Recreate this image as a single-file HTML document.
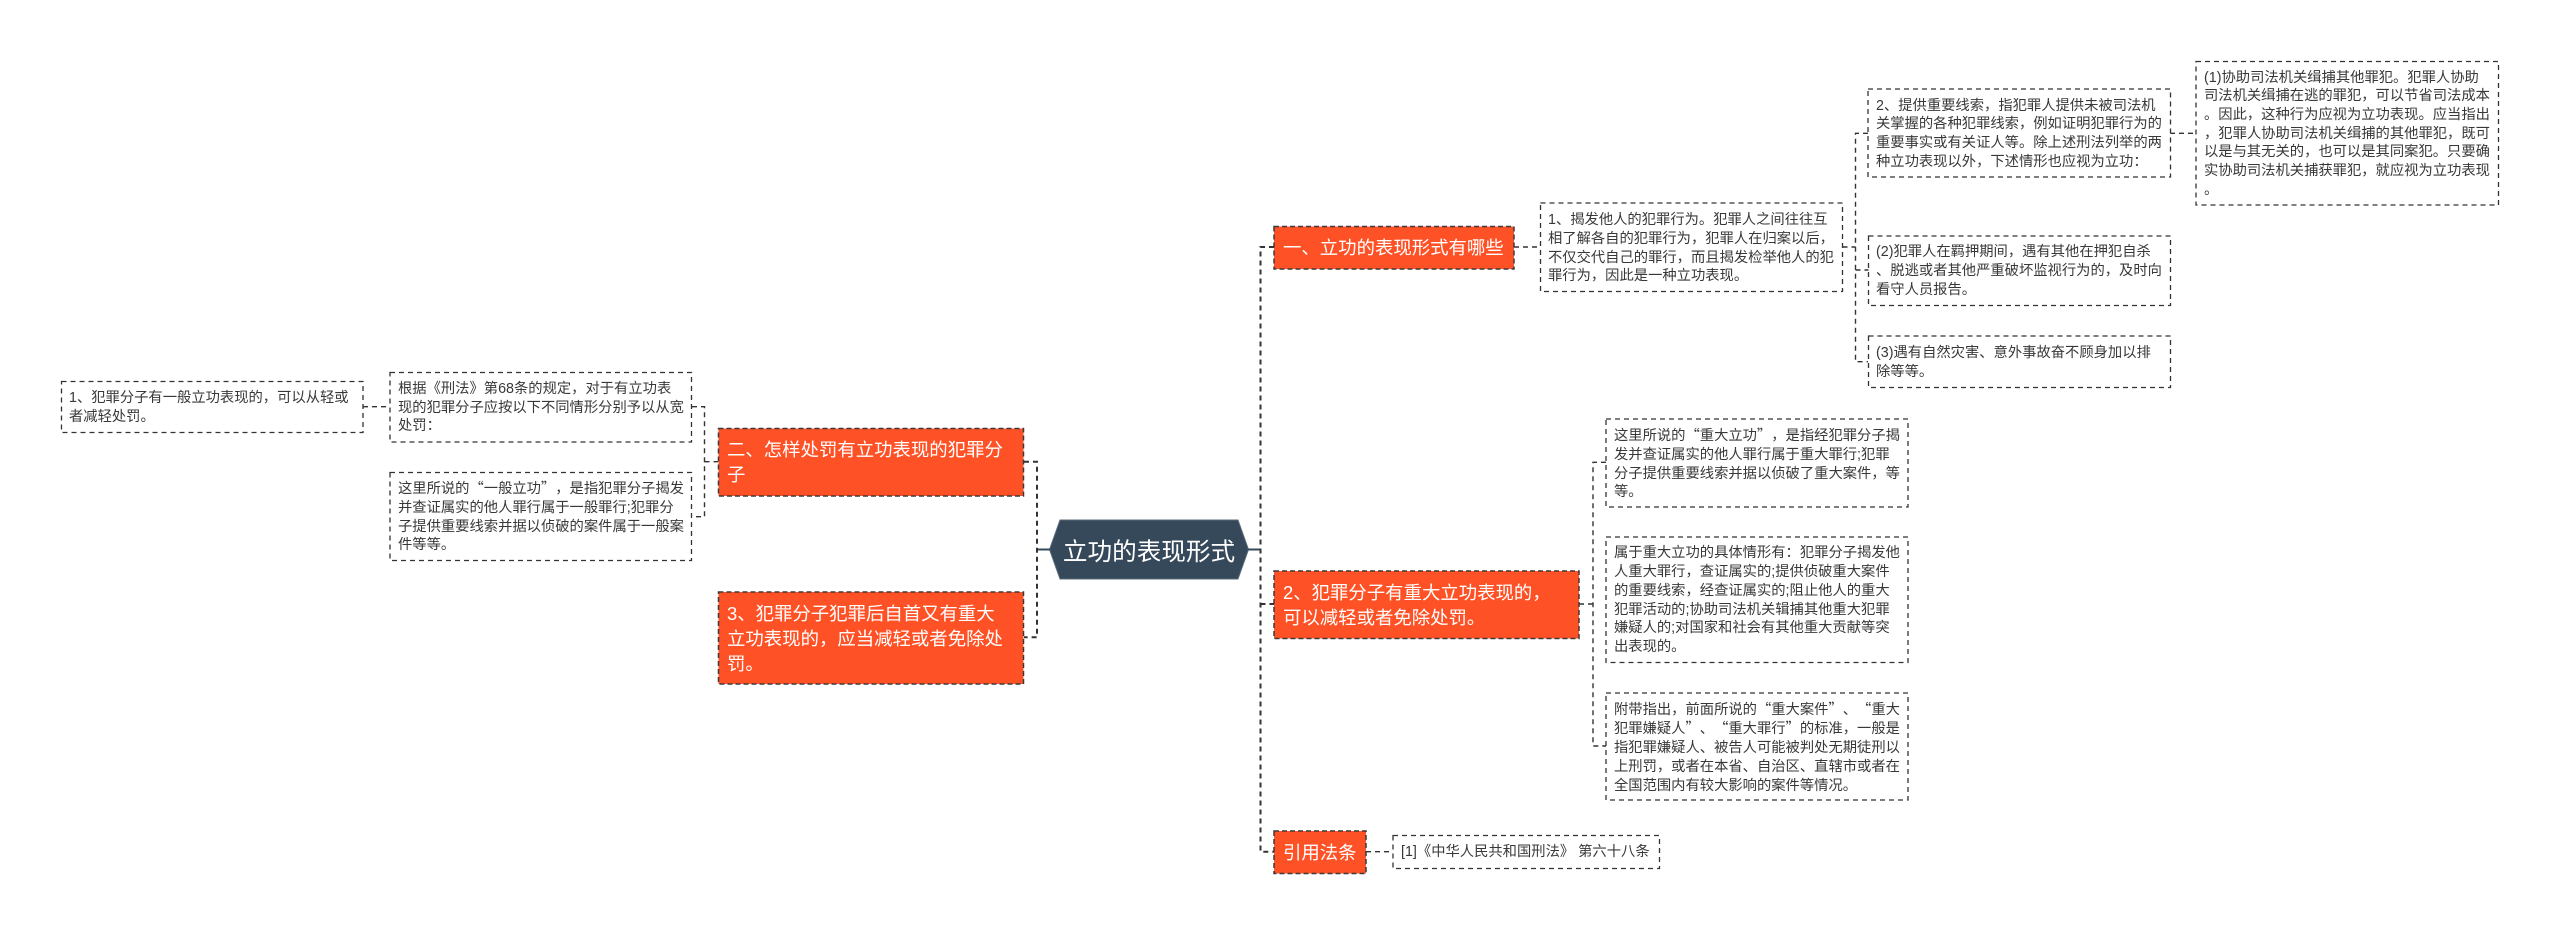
<!DOCTYPE html>
<html lang="zh-CN">
<head>
<meta charset="utf-8">
<title>立功的表现形式</title>
<style>
html,body{margin:0;padding:0;background:#fff;width:2560px;height:935px;overflow:hidden}
body{position:relative;font-family:"Liberation Sans","Noto Sans CJK SC",sans-serif;color:#333;text-spacing-trim:space-all;font-kerning:none;font-feature-settings:"palt" 0,"halt" 0}
svg{position:absolute;left:0;top:0}
.b,.o{position:absolute;display:flex;align-items:center;white-space:nowrap;box-sizing:border-box}
.b{font-size:14.3px;line-height:18.7px;padding-left:8px;padding-top:2px;color:#383838}
.o{font-size:18.4px;line-height:25px;padding-left:9px;color:#fff}
.q{font-family:"Noto Sans CJK SC",sans-serif}
.c{position:absolute;left:1050px;top:520px;width:198px;height:59px;display:flex;align-items:center;justify-content:center;font-size:24.6px;color:#fff;white-space:nowrap}
</style>
</head>
<body>
<svg width="2560" height="935" viewBox="0 0 2560 935" fill="none">
  <!-- orange nodes -->
  <g fill="#ff5126" stroke="#3a3a3a" stroke-width="1.5" stroke-dasharray="5 3">
    <rect x="718.5" y="428.5" width="305" height="67.5"/>
    <rect x="718.5" y="592" width="305" height="92"/>
    <rect x="1274" y="226.5" width="240" height="42.5"/>
    <rect x="1274" y="571" width="305" height="67.5"/>
    <rect x="1274" y="831" width="92" height="42.5"/>
  </g>
  <!-- central node -->
  <polygon points="1049.5,549.5 1060,520 1238,520 1248.5,549.5 1238,579 1060,579" fill="#36495a" stroke="#5b6c7a" stroke-width="1"/>
  <path d="M1037 549.5H1050M1248 549.5H1261" stroke="#36495a" stroke-width="2"/>
  <!-- main connectors -->
  <g stroke="#333" stroke-width="2" stroke-dasharray="5 4">
    <path d="M1024 461.7H1037V637.3H1024"/>
    <path d="M1274 247H1260.5V851.7H1274"/>
    <path d="M1260.5 604H1274"/>
  </g>
  <!-- secondary connectors -->
  <g stroke="#333" stroke-width="1.4" stroke-dasharray="5 4">
    <path d="M692 406.7H704.5V516.7H692"/>
    <path d="M704.5 461.7H718"/>
    <path d="M363 406.7H390"/>
    <path d="M1514 247H1540.5"/>
    <path d="M1842.5 247H1855.5"/>
    <path d="M1868 133.3H1855.5V361.7H1868"/>
    <path d="M1855.5 270H1868.5"/>
    <path d="M2170 133.3H2196"/>
    <path d="M1579 604H1593"/>
    <path d="M1606 462.3H1593V746H1606"/>
    <path d="M1366 851.7H1393"/>
  </g>
  <!-- text boxes -->
  <g fill="#fff" stroke="#333" stroke-width="1.3" stroke-dasharray="5 4">
    <rect x="61.5" y="381.5" width="301.5" height="51"/>
    <rect x="390" y="372.5" width="301.5" height="69.5"/>
    <rect x="390" y="472.5" width="301.5" height="88"/>
    <rect x="1540.5" y="203" width="302" height="88.5"/>
    <rect x="1868" y="89" width="302.5" height="88"/>
    <rect x="2196" y="61.5" width="302.5" height="143.5"/>
    <rect x="1868.5" y="236" width="302" height="69.5"/>
    <rect x="1868.5" y="336" width="302" height="51.5"/>
    <rect x="1606" y="419" width="302" height="88"/>
    <rect x="1606" y="537" width="302" height="125.5"/>
    <rect x="1606" y="693" width="302" height="107"/>
    <rect x="1393" y="835.5" width="266.5" height="33"/>
  </g>
</svg>

<div class="c">立功的表现形式</div>

<div class="o" style="left:718px;top:428px;width:306px;height:68px"><div>二、怎样处罚有立功表现的犯罪分<br>子</div></div>
<div class="o" style="left:718px;top:592px;width:306px;height:92px"><div>3、犯罪分子犯罪后自首又有重大<br>立功表现的，应当减轻或者免除处<br>罚。</div></div>
<div class="o" style="left:1274px;top:226px;width:240px;height:43px"><div>一、立功的表现形式有哪些</div></div>
<div class="o" style="left:1274px;top:571px;width:305px;height:67px"><div>2、犯罪分子有重大立功表现的，<br>可以减轻或者免除处罚。</div></div>
<div class="o" style="left:1274px;top:831px;width:92px;height:42px"><div>引用法条</div></div>

<div class="b" style="left:61px;top:381px;width:302px;height:51px"><div>1、犯罪分子有一般立功表现的，可以从轻或<br>者减轻处罚。</div></div>
<div class="b" style="left:390px;top:372px;width:302px;height:70px"><div>根据《刑法》第68条的规定，对于有立功表<br>现的犯罪分子应按以下不同情形分别予以从宽<br>处罚：</div></div>
<div class="b" style="left:390px;top:472px;width:302px;height:88px"><div>这里所说的<span class="q">“</span>一般立功<span class="q">”</span>，是指犯罪分子揭发<br>并查证属实的他人罪行属于一般罪行;犯罪分<br>子提供重要线索并据以侦破的案件属于一般案<br>件等等。</div></div>
<div class="b" style="left:1540px;top:203px;width:302px;height:89px"><div>1、揭发他人的犯罪行为。犯罪人之间往往互<br>相了解各自的犯罪行为，犯罪人在归案以后，<br>不仅交代自己的罪行，而且揭发检举他人的犯<br>罪行为，因此是一种立功表现。</div></div>
<div class="b" style="left:1868px;top:89px;width:302px;height:88px"><div>2、提供重要线索，指犯罪人提供未被司法机<br>关掌握的各种犯罪线索，例如证明犯罪行为的<br>重要事实或有关证人等。除上述刑法列举的两<br>种立功表现以外，下述情形也应视为立功：</div></div>
<div class="b" style="left:2196px;top:61px;width:302px;height:144px"><div>(1)协助司法机关缉捕其他罪犯。犯罪人协助<br>司法机关缉捕在逃的罪犯，可以节省司法成本<br>。因此，这种行为应视为立功表现。应当指出<br>，犯罪人协助司法机关缉捕的其他罪犯，既可<br>以是与其无关的，也可以是其同案犯。只要确<br>实协助司法机关捕获罪犯，就应视为立功表现<br>。</div></div>
<div class="b" style="left:1868px;top:236px;width:302px;height:69px"><div>(2)犯罪人在羁押期间，遇有其他在押犯自杀<br>、脱逃或者其他严重破坏监视行为的，及时向<br>看守人员报告。</div></div>
<div class="b" style="left:1868px;top:336px;width:302px;height:51px"><div>(3)遇有自然灾害、意外事故奋不顾身加以排<br>除等等。</div></div>
<div class="b" style="left:1606px;top:419px;width:302px;height:88px"><div>这里所说的<span class="q">“</span>重大立功<span class="q">”</span>，是指经犯罪分子揭<br>发并查证属实的他人罪行属于重大罪行;犯罪<br>分子提供重要线索并据以侦破了重大案件，等<br>等。</div></div>
<div class="b" style="left:1606px;top:537px;width:302px;height:125px"><div>属于重大立功的具体情形有：犯罪分子揭发他<br>人重大罪行，查证属实的;提供侦破重大案件<br>的重要线索，经查证属实的;阻止他人的重大<br>犯罪活动的;协助司法机关辑捕其他重大犯罪<br>嫌疑人的;对国家和社会有其他重大贡献等突<br>出表现的。</div></div>
<div class="b" style="left:1606px;top:693px;width:302px;height:107px"><div>附带指出，前面所说的<span class="q">“</span>重大案件<span class="q">”</span>、<span class="q">“</span>重大<br>犯罪嫌疑人<span class="q">”</span>、<span class="q">“</span>重大罪行<span class="q">”</span>的标准，一般是<br>指犯罪嫌疑人、被告人可能被判处无期徒刑以<br>上刑罚，或者在本省、自治区、直辖市或者在<br>全国范围内有较大影响的案件等情况。</div></div>
<div class="b" style="left:1393px;top:835px;width:266px;height:33px"><div>[1]《中华人民共和国刑法》 第六十八条</div></div>
</body>
</html>
